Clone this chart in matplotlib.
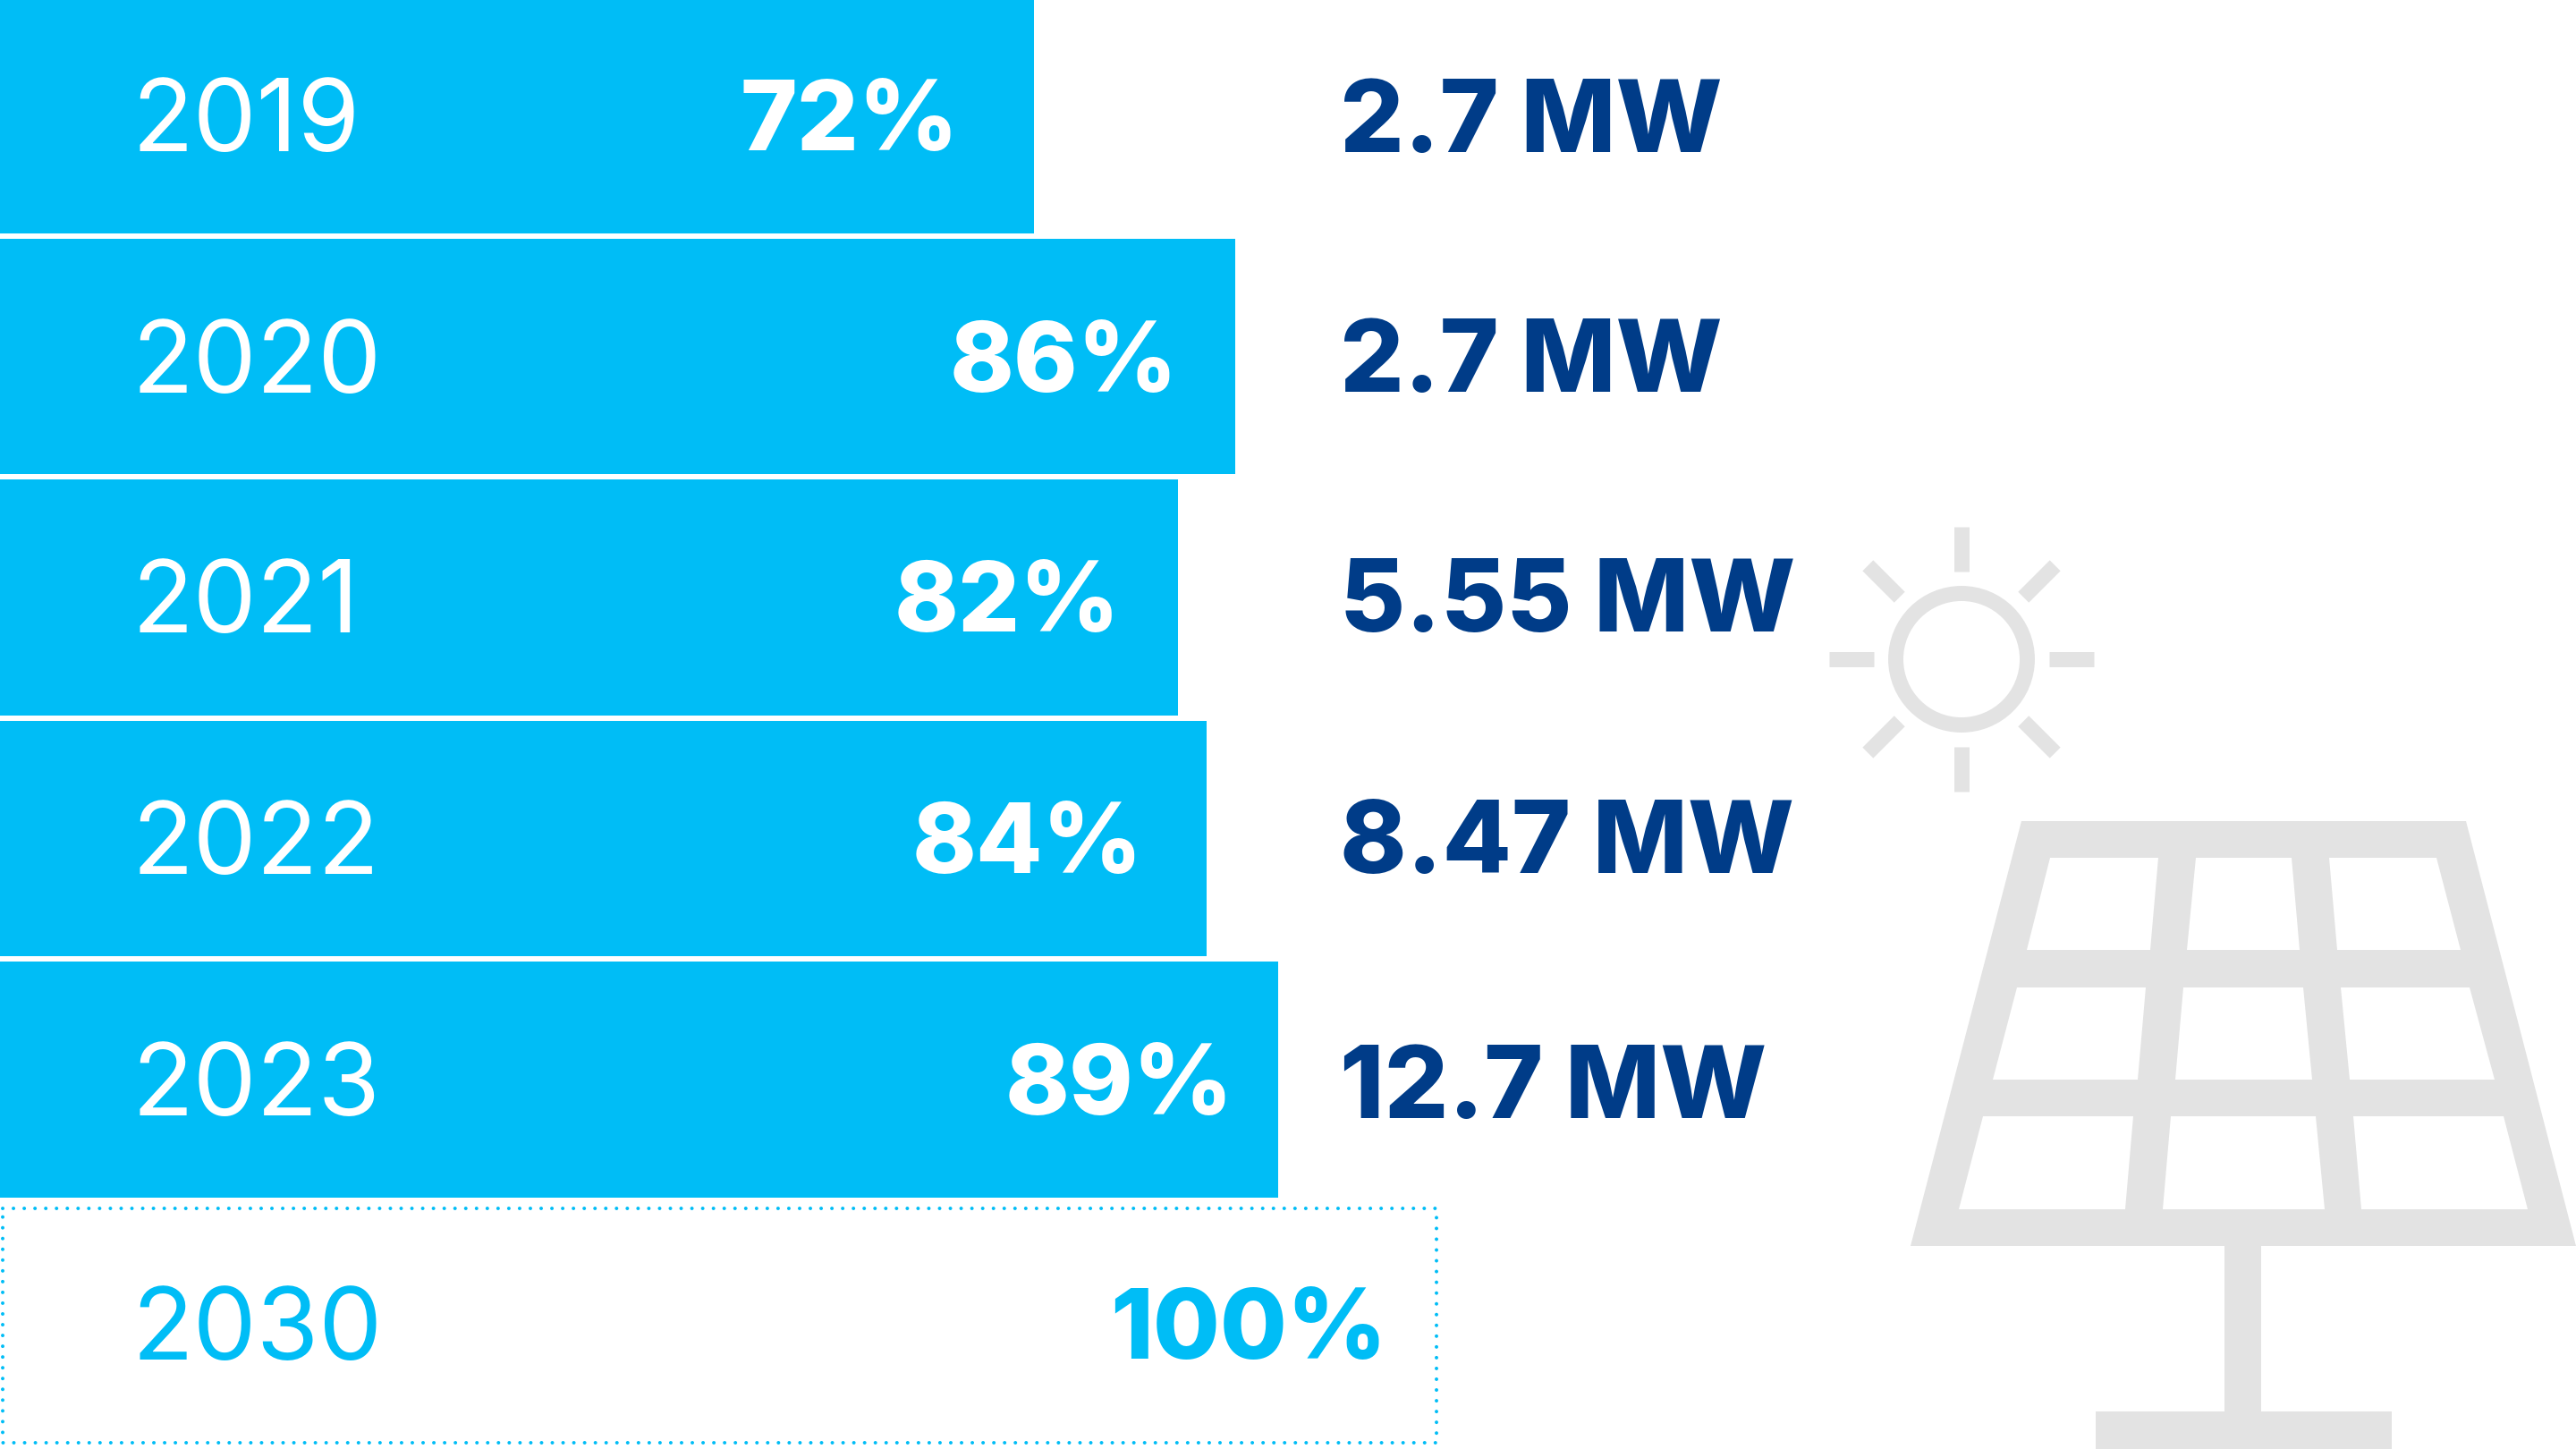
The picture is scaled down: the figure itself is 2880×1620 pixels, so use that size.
import matplotlib
matplotlib.use('Agg')
import matplotlib.pyplot as plt
from matplotlib.patches import Circle, Polygon, Rectangle
import numpy as np

years = ['2019', '2020', '2021', '2022', '2023', '2030']
shares = [72, 86, 82, 84, 89, 100]
capacity = ['2.7 MW', '2.7 MW', '5.55 MW', '8.47 MW', '12.7 MW']

CYAN = '#00BDF6'
NAVY = '#003C88'
GREY = '#E3E3E3'

plt.rcParams['font.family'] = ['Inter', 'DejaVu Sans']

fig = plt.figure(figsize=(14.4, 8.1), dpi=200)

# bars, x axis is percent
ax = fig.add_axes([0, 0, 1, 1])
ax.set_xlim(0, 2880 / 16.06)
ax.set_ylim((1620 - 129) / 269.5, -129 / 269.5)
ax.axis('off')

y_pos = np.arange(len(years), dtype=float)
y_pos[-1] += 0.02
ax.barh(y_pos[:-1], shares[:-1], height=0.976, color=CYAN, linewidth=0)
ax.barh(y_pos[-1], shares[-1] - 0.2, left=0.2, height=0.972, facecolor='none', edgecolor=CYAN,
        linewidth=1.44, linestyle=(0, (0.01, 3)), capstyle='round')

# pixel overlay for labels and the icon
px = fig.add_axes([0, 0, 1, 1], facecolor='none')
px.set_xlim(0, 2880)
px.set_ylim(1620, 0)
px.axis('off')

baselines = [169, 439, 707, 977, 1247, 1520]
share_right = [1072, 1317, 1252, 1278, 1379, 1551]
mw_baselines = [170, 438, 706, 976, 1250]

for i, year in enumerate(years):
    colour = CYAN if year == '2030' else 'white'
    px.text(147, baselines[i], year, color=colour, fontsize=40.5, fontweight='normal', va='baseline')
    px.text(share_right[i], baselines[i] - 1, '%d%%' % shares[i], color=colour, fontsize=39,
            fontweight='heavy', ha='right', va='baseline')

for i, label in enumerate(capacity):
    px.text(1498, mw_baselines[i], label, color=NAVY, fontsize=40.5, fontweight='heavy', va='baseline')

# sun
px.add_patch(Circle((2193, 737), 73.5, facecolor='none', edgecolor=GREY, linewidth=6.1))
for a in np.arange(0, 360, 45):
    c, s = np.cos(np.radians(a)), np.sin(np.radians(a))
    px.plot([2193 + 98 * c, 2193 + 148 * c], [737 + 98 * s, 737 + 148 * s],
            color=GREY, linewidth=6.1, solid_capstyle='butt')

# solar panel
px.add_patch(Polygon([(2260, 918), (2757, 918), (2880, 1393), (2136, 1393)], facecolor=GREY, linewidth=0))
holes = [
    (959, 1062, [(2292, 2413, 2266, 2404), (2455, 2562, 2445, 2571), (2604, 2724, 2613, 2751)]),
    (1104, 1207, [(2255, 2399, 2228, 2390), (2441, 2575, 2432, 2585), (2617, 2761, 2627, 2789)]),
    (1248, 1352, [(2217, 2385, 2190, 2376), (2427, 2589, 2418, 2599), (2631, 2799, 2640, 2826)]),
]
for top, bottom, cells in holes:
    for tl, tr, bl, br in cells:
        px.add_patch(Polygon([(tl, top), (tr, top), (br, bottom), (bl, bottom)], facecolor='white', linewidth=0))
px.add_patch(Rectangle((2487, 1393), 41, 186, facecolor=GREY, linewidth=0))
px.add_patch(Rectangle((2343, 1578), 331, 42, facecolor=GREY, linewidth=0))

fig.savefig('out.png', dpi=200, facecolor='white')
